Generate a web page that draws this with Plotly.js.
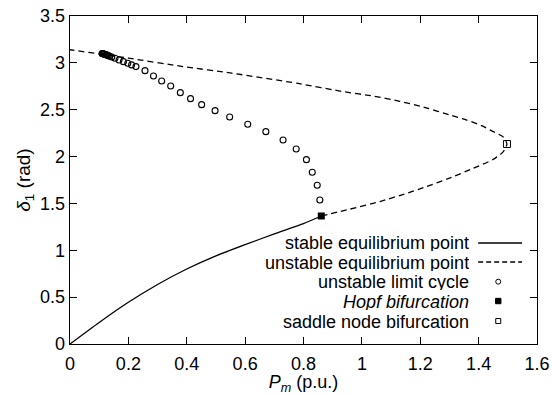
<!DOCTYPE html>
<html>
<head>
<meta charset="utf-8">
<script src="https://cdn.plot.ly/plotly-3.0.1.min.js"></script>
<style>html,body{margin:0;padding:0;background:#fff;}#chart{width:553px;height:395px;}</style>
</head>
<body>
<div id="chart"></div>
<script>
// ---- data ----
const stablePm    = [0, 0.1, 0.2, 0.3, 0.4, 0.5, 0.6, 0.7, 0.8, 0.861];
const stableDelta = [0, 0.23, 0.445, 0.635, 0.80, 0.94, 1.06, 1.175, 1.285, 1.366];

const unstablePm    = [0.861, 0.96, 1.062, 1.14, 1.222, 1.30, 1.382, 1.45, 1.484, 1.497,
                       1.484, 1.45, 1.41, 1.359, 1.30, 1.22, 1.13, 1.04, 0.942, 0.782, 0.554, 0.388, 0.2, 0];
const unstableDelta = [1.366, 1.44, 1.52, 1.595, 1.68, 1.77, 1.875, 1.97, 2.05, 2.134,
                       2.21, 2.266, 2.33, 2.39, 2.445, 2.52, 2.59, 2.645, 2.69, 2.78, 2.89, 2.96, 3.05, 3.14];

const cyclePm    = [0.110, 0.112, 0.114, 0.116, 0.118, 0.121, 0.124, 0.127, 0.131, 0.136, 0.143, 0.154, 0.168,
                    0.183, 0.198, 0.211, 0.226, 0.257, 0.286, 0.314, 0.345, 0.378, 0.413, 0.451, 0.497,
                    0.547, 0.609, 0.671, 0.73, 0.775, 0.81, 0.83, 0.847, 0.856];
const cycleDelta = [3.100, 3.098, 3.096, 3.094, 3.092, 3.089, 3.086, 3.082, 3.077, 3.071, 3.063, 3.049, 3.031,
                    3.013, 2.996, 2.978, 2.96, 2.917, 2.86, 2.807, 2.753, 2.682, 2.618, 2.554, 2.49,
                    2.423, 2.345, 2.266, 2.177, 2.081, 1.967, 1.832, 1.694, 1.537];

const hopfPm = [0.861],  hopfDelta = [1.366];
const saddlePm = [1.497], saddleDelta = [2.134];

const xTicks = [0, 0.2, 0.4, 0.6, 0.8, 1, 1.2, 1.4, 1.6];
const xTickLabels = ['0', '0.2', '0.4', '0.6', '0.8', '1', '1.2', '1.4', '1.6'];
const yTicks = [0, 0.5, 1, 1.5, 2, 2.5, 3, 3.5];
const yTickLabels = ['0', '0.5', '1', '1.5', '2', '2.5', '3', '3.5'];

const legendLabels = ['stable equilibrium point', 'unstable equilibrium point',
                      'unstable limit cycle', '<i>Hopf bifurcation</i>', 'saddle node bifurcation'];

// ---- chart ----
const FONT = 'Liberation Sans, Arial, Helvetica, sans-serif';
const traces = [
  {x: stablePm, y: stableDelta, mode: 'lines', line: {color: '#000', width: 1.3, shape: 'spline', smoothing: 0.6}, hoverinfo: 'skip'},
  {x: unstablePm, y: unstableDelta, mode: 'lines', line: {color: '#000', width: 1.3, dash: '6px,4px', shape: 'spline', smoothing: 0.6}, hoverinfo: 'skip'},
  {x: cyclePm, y: cycleDelta, mode: 'markers',
   marker: {symbol: 'circle-open', size: 6, color: '#000', line: {width: 1.1, color: '#000'}}},
  {x: hopfPm, y: hopfDelta, mode: 'markers', marker: {symbol: 'square', size: 7, color: '#000'}},
  {x: saddlePm, y: saddleDelta, mode: 'markers',
   marker: {symbol: 'square-open', size: 7, color: '#000', line: {width: 1, color: '#000'}}}
];

const rowY = [0.308, 0.250, 0.190, 0.131, 0.070];
const annotations = legendLabels.map((t, i) => ({
  xref: 'paper', yref: 'paper', x: 0.856, y: rowY[i], xanchor: 'right', yanchor: 'middle',
  height: 17, valign: 'middle', borderpad: 0,
  text: t, showarrow: false, font: {family: FONT, size: 18, color: '#000'}
}));

const shapes = [
  {type: 'line', xref: 'paper', yref: 'paper', x0: 0.874, x1: 0.968, y0: rowY[0], y1: rowY[0],
   line: {color: '#000', width: 1.3}},
  {type: 'line', xref: 'paper', yref: 'paper', x0: 0.874, x1: 0.968, y0: rowY[1], y1: rowY[1],
   line: {color: '#000', width: 1.3, dash: '5px,3px'}},
  {type: 'circle', xref: 'paper', yref: 'paper', xsizemode: 'pixel', ysizemode: 'pixel',
   xanchor: 0.917, yanchor: rowY[2], x0: -2.5, x1: 2.5, y0: -2.5, y1: 2.5,
   line: {color: '#000', width: 1}},
  {type: 'rect', xref: 'paper', yref: 'paper', xsizemode: 'pixel', ysizemode: 'pixel',
   xanchor: 0.917, yanchor: rowY[3], x0: -2.7, x1: 2.7, y0: -2.7, y1: 2.7,
   line: {color: '#000', width: 1}, fillcolor: '#000'},
  {type: 'rect', xref: 'paper', yref: 'paper', xsizemode: 'pixel', ysizemode: 'pixel',
   xanchor: 0.917, yanchor: rowY[4], x0: -2.5, x1: 2.5, y0: -2.5, y1: 2.5,
   line: {color: '#000', width: 1}}
];

const axisCommon = {
  showgrid: false, zeroline: false, showline: true, mirror: 'ticks',
  linecolor: '#000', linewidth: 1.3, ticks: 'inside', ticklen: 7, tickwidth: 1.2, tickcolor: '#000',
  tickfont: {family: FONT, size: 18, color: '#000'}, tickmode: 'array'
};

const layout = {
  width: 553, height: 395,
  margin: {l: 70, r: 16, t: 16, b: 51},
  paper_bgcolor: '#fff', plot_bgcolor: '#fff',
  showlegend: false,
  font: {family: FONT, color: '#000'},
  xaxis: Object.assign({}, axisCommon, {
    range: [0, 1.6], tickvals: xTicks, ticktext: xTickLabels, ticklabelstandoff: 3,
    title: {text: '<i>P<sub>m</sub></i> (p.u.)', font: {family: FONT, size: 18}, standoff: 2}
  }),
  yaxis: Object.assign({}, axisCommon, {
    range: [0, 3.5], tickvals: yTicks, ticktext: yTickLabels,
    title: {text: '<i>δ</i><sub>1</sub> (rad)', font: {family: FONT, size: 19}, standoff: 4}
  }),
  annotations: annotations,
  shapes: shapes
};

Plotly.newPlot('chart', traces, layout, {staticPlot: true, displayModeBar: false});
</script>
</body>
</html>
